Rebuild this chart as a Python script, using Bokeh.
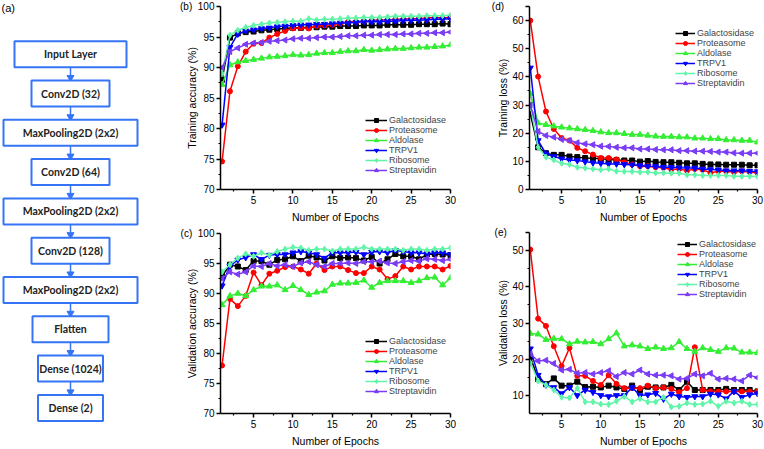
from bokeh.plotting import figure
from bokeh.layouts import row, column
from bokeh.models import Range1d, Legend, LegendItem, FixedTicker
from bokeh.embed import file_html
from bokeh.resources import INLINE
from bokeh.core.properties import value
import math

# ---------------- data ----------------
epochs = list(range(1, 31))
series_names = ["Galactosidase", "Proteasome", "Aldolase", "TRPV1", "Ribosome", "Streptavidin"]

layers = ["Input Layer", "Conv2D (32)", "MaxPooling2D (2x2)", "Conv2D (64)", "MaxPooling2D (2x2)",
          "Conv2D (128)", "MaxPooling2D (2x2)", "Flatten", "Dense (1024)", "Dense (2)"]

# (b) training accuracy
ta_gal = [88.0, 94.9, 95.6, 95.8, 95.9, 96.1, 96.2, 96.3, 96.4, 96.5, 96.5, 96.6, 96.6, 96.7, 96.7,
          96.8, 96.8, 96.8, 96.9, 96.9, 96.9, 97.0, 97.0, 97.0, 97.0, 97.1, 97.1, 97.1, 97.2, 97.1]
ta_pro = [74.6, 86.1, 90.2, 92.6, 93.9, 94.0, 94.9, 95.5, 96.0, 96.4, 96.5, 96.4, 96.8, 96.9, 97.0,
          97.2, 97.5, 97.5, 97.6, 97.7, 97.8, 97.8, 97.9, 97.9, 98.0, 98.0, 98.1, 98.2, 98.1, 98.2]
ta_ald = [87.2, 90.4, 90.9, 91.1, 91.3, 91.5, 91.7, 91.8, 91.9, 92.1, 92.0, 92.1, 92.3, 92.4, 92.4,
          92.6, 92.7, 92.7, 92.9, 92.8, 92.9, 93.0, 93.1, 93.1, 93.2, 93.3, 93.3, 93.4, 93.5, 93.7]
ta_trp = [80.6, 93.3, 95.5, 96.0, 96.2, 96.4, 96.5, 96.7, 96.8, 96.9, 97.0, 97.0, 97.1, 97.1, 97.2,
          97.3, 97.3, 97.4, 97.5, 97.5, 97.5, 97.6, 97.6, 97.7, 97.7, 97.8, 97.8, 97.9, 97.9, 98.0]
ta_rib = [89.0, 95.3, 96.1, 96.6, 96.9, 97.1, 97.3, 97.4, 97.5, 97.6, 97.6, 98.0, 97.8, 97.9, 97.9,
          98.0, 98.1, 98.1, 98.2, 98.2, 98.2, 98.3, 98.4, 98.4, 98.4, 98.4, 98.5, 98.5, 98.5, 98.6]
ta_str = [90.0, 92.6, 93.2, 93.8, 94.0, 94.1, 94.3, 94.4, 94.5, 94.7, 94.8, 94.8, 94.9, 95.0, 95.0,
          95.1, 95.2, 95.2, 95.3, 95.3, 95.4, 95.4, 95.4, 95.5, 95.5, 95.6, 95.6, 95.7, 95.7, 95.8]

# (c) validation accuracy
va_gal = [92.9, 94.8, 94.5, 93.9, 95.4, 95.4, 94.8, 95.6, 95.7, 96.2, 95.4, 96.3, 96.0, 95.5, 96.2,
          95.9, 96.0, 95.9, 95.5, 96.1, 95.0, 95.7, 96.6, 96.2, 96.2, 95.7, 96.5, 96.6, 96.5, 96.4]
va_pro = [78.0, 89.1, 87.9, 89.6, 93.5, 91.4, 93.3, 93.8, 94.4, 94.5, 94.0, 93.3, 95.0, 93.9, 94.5,
          94.5, 93.9, 93.4, 93.4, 94.5, 94.0, 92.4, 92.9, 94.5, 94.0, 94.5, 94.5, 94.5, 94.0, 94.6]
va_ald = [88.1, 89.6, 90.0, 89.6, 90.6, 91.2, 91.2, 91.4, 90.6, 91.3, 90.6, 89.8, 90.2, 90.4, 91.5,
          91.7, 91.7, 91.8, 92.2, 91.0, 91.8, 92.1, 92.1, 92.1, 91.8, 92.1, 92.6, 92.7, 91.4, 92.6]
va_trp = [91.3, 94.6, 95.6, 96.0, 96.5, 95.7, 96.4, 96.5, 96.5, 96.8, 97.0, 96.8, 96.5, 95.9, 96.8,
          96.8, 96.8, 96.9, 96.5, 96.9, 97.0, 96.8, 97.2, 97.0, 96.8, 96.8, 96.6, 96.8, 96.8, 96.5]
va_rib = [93.6, 94.8, 95.9, 96.6, 96.2, 96.8, 96.4, 97.0, 97.4, 97.7, 97.6, 97.2, 97.4, 97.4, 97.1,
          97.4, 97.4, 97.4, 97.7, 97.4, 97.4, 97.4, 97.4, 97.2, 97.4, 97.4, 97.2, 97.4, 97.4, 97.6]
va_str = [92.5, 93.6, 93.2, 93.6, 94.6, 94.5, 95.0, 94.6, 94.8, 94.5, 95.1, 95.3, 94.8, 94.5, 95.0,
          95.0, 95.1, 95.0, 95.3, 95.3, 95.4, 95.1, 95.0, 95.3, 95.5, 95.4, 95.8, 95.7, 95.5, 95.7]

# (d) training loss
tl_gal = [26.9, 15.0, 12.9, 12.3, 12.3, 11.7, 11.5, 11.2, 11.1, 10.9, 10.7, 10.5, 10.3, 10.3, 9.9,
          10.1, 9.8, 9.7, 9.7, 9.5, 9.3, 9.3, 9.1, 8.9, 8.9, 8.8, 8.8, 8.8, 8.6, 8.6]
tl_pro = [60.0, 40.1, 27.7, 21.5, 18.3, 17.4, 14.8, 13.6, 12.4, 11.2, 11.2, 10.7, 9.7, 8.9, 8.3,
          8.3, 7.9, 7.7, 7.1, 7.3, 6.7, 7.3, 7.0, 5.9, 6.5, 6.5, 6.2, 6.5, 6.2, 5.9]
tl_ald = [34.0, 23.6, 23.0, 22.5, 22.1, 21.8, 21.5, 21.2, 20.9, 20.4, 20.1, 20.1, 19.8, 19.5, 19.5,
          19.2, 18.9, 18.8, 18.8, 18.6, 18.6, 18.2, 18.2, 18.0, 18.0, 17.6, 17.6, 17.4, 17.4, 16.8]
tl_trp = [43.2, 17.4, 12.7, 11.7, 10.9, 10.5, 10.3, 9.9, 9.5, 9.3, 9.1, 9.1, 8.9, 8.8, 8.5,
          8.3, 8.2, 7.9, 7.9, 7.7, 7.6, 7.6, 7.3, 7.1, 7.0, 6.7, 6.7, 6.7, 6.5, 6.4]
tl_rib = [30.0, 15.0, 11.5, 10.5, 9.3, 8.9, 7.9, 7.6, 7.3, 7.0, 7.3, 6.5, 6.4, 6.4, 6.2,
          6.2, 5.9, 5.9, 5.8, 5.8, 5.2, 5.2, 5.0, 5.0, 5.0, 5.0, 4.7, 4.7, 4.7, 4.6]
tl_str = [30.0, 20.6, 19.2, 18.6, 17.8, 17.4, 16.6, 16.2, 15.9, 15.4, 15.3, 15.0, 14.8, 14.8, 14.4,
          14.4, 14.2, 14.1, 14.1, 13.8, 13.8, 13.6, 13.6, 13.5, 13.3, 13.3, 13.0, 12.9, 12.9, 12.9]

# (e) validation loss
vl_gal = [20.7, 14.5, 13.1, 14.7, 12.7, 12.7, 13.8, 12.3, 12.4, 12.2, 12.7, 12.2, 11.8, 12.7, 11.5,
          12.4, 12.2, 12.2, 12.9, 11.5, 13.8, 11.5, 11.5, 11.5, 11.5, 11.8, 11.5, 11.5, 11.5, 11.1]
vl_pro = [50.3, 31.2, 29.2, 23.6, 18.1, 23.1, 15.4, 15.4, 14.0, 12.9, 15.6, 13.2, 12.0, 12.0, 12.0,
          12.7, 12.0, 12.2, 11.8, 10.9, 12.0, 23.3, 11.5, 11.1, 11.1, 11.1, 11.1, 11.1, 11.1, 11.1]
vl_ald = [27.1, 26.9, 25.4, 25.7, 25.6, 24.2, 24.9, 24.7, 24.8, 24.2, 25.6, 27.2, 23.6, 23.9, 23.6,
          22.9, 23.3, 22.9, 23.1, 24.8, 22.9, 22.1, 23.1, 22.6, 22.1, 23.1, 23.0, 21.9, 21.9, 21.8]
vl_trp = [22.9, 15.6, 12.9, 12.2, 10.5, 12.2, 10.0, 11.5, 10.9, 10.0, 9.7, 10.0, 10.0, 12.2, 10.0,
          10.2, 10.6, 9.0, 10.4, 9.7, 9.5, 9.7, 9.7, 10.4, 10.2, 9.1, 11.1, 9.5, 10.2, 10.5]
vl_rib = [19.0, 14.0, 12.9, 11.5, 9.5, 9.3, 12.0, 8.2, 8.2, 7.6, 7.5, 8.4, 9.7, 8.2, 9.1,
          8.2, 8.2, 9.5, 6.8, 7.0, 7.9, 7.5, 7.6, 8.4, 7.0, 8.4, 7.9, 8.4, 7.5, 7.5]
vl_str = [21.5, 19.5, 19.7, 18.8, 17.0, 17.2, 16.1, 16.3, 15.9, 16.3, 16.8, 15.2, 16.3, 15.9, 17.0,
          15.9, 15.6, 15.6, 15.4, 14.5, 14.7, 15.9, 15.4, 16.1, 14.5, 14.7, 14.5, 14.0, 15.6, 14.9]

x_ticks = [5, 10, 15, 20, 25, 30]
acc_ticks = [70, 75, 80, 85, 90, 95, 100]
tl_ticks = [0, 10, 20, 30, 40, 50, 60]
vl_ticks = [10, 20, 30, 40, 50]
panel_tags = ["(a)", "(b)", "(c)", "(d)", "(e)"]

# ---------------- styles ----------------
FONT = "Liberation Sans"
NB = "\u00a0"
colors = ["#000000", "#ff0000", "#33ee33", "#0000ff", "#5ff5a8", "#7a3cf5"]
markers = ["square", "circle", "triangle", "inverted_triangle", "diamond", "triangle"]
msizes = [5, 5, 6, 6, 6, 6]
angles = [0, 0, 0, 0, 0, math.pi / 2]
FLOW_BLUE = "#3575f5"


def make_panel(series, width, height, mbl, mbr, mbt, mbb, x_start, y_start, y_end,
               y_ticks, y_minor, ylabel, tag_tick, tag_text, ylab_standoff, leg_xy, glyph_w):
    p = figure(width=width, height=height, x_range=Range1d(x_start, 30),
               y_range=Range1d(y_start, y_end), output_backend="svg", toolbar_location=None,
               min_border_left=mbl, min_border_right=mbr, min_border_top=mbt,
               min_border_bottom=mbb)
    p.grid.visible = False
    p.outline_line_color = None
    p.xaxis.ticker = FixedTicker(ticks=x_ticks, minor_ticks=[t - 2.5 for t in x_ticks])
    yt = sorted(set(y_ticks + [tag_tick]))
    p.yaxis.ticker = FixedTicker(ticks=yt, minor_ticks=y_minor)
    p.yaxis.major_label_overrides = {tag_tick: tag_text}
    p.xaxis.axis_label = "Number of Epochs"
    p.yaxis.axis_label = ylabel
    for ax in (p.xaxis[0], p.yaxis[0]):
        ax.axis_line_width = 1.5
        ax.major_tick_line_width = 1.5
        ax.minor_tick_line_width = 1.2
        ax.major_tick_in = 0
        ax.major_tick_out = 4
        ax.minor_tick_in = 0
        ax.minor_tick_out = 2
        ax.major_label_text_font = FONT
        ax.major_label_text_font_size = "10px"
        ax.major_label_text_color = "black"
        ax.axis_label_text_font = FONT
        ax.axis_label_text_font_size = "10.5px"
        ax.axis_label_text_font_style = "normal"
        ax.axis_label_text_color = "black"
        ax.major_label_standoff = 2
    p.xaxis.axis_label_standoff = 4
    p.yaxis.axis_label_standoff = ylab_standoff

    items = []
    for name, ys, col, mk, ms, ang in zip(series_names, series, colors, markers, msizes, angles):
        lr = p.line(epochs, ys, line_color=col, line_width=1.5)
        sr = p.scatter(epochs, ys, marker=mk, size=ms, angle=ang, fill_color=col, line_color=col)
        items.append(LegendItem(label=name, renderers=[lr, sr]))

    leg = Legend(items=items, location=leg_xy, padding=0, margin=0,
                 spacing=0, glyph_width=glyph_w, glyph_height=10, label_height=10,
                 label_standoff=2, label_text_font=FONT, label_text_font_size="9px",
                 background_fill_alpha=0, border_line_alpha=0)
    p.add_layout(leg)
    return p


acc_minor = [72.5, 77.5, 82.5, 87.5, 92.5, 97.5]
pb = make_panel([ta_gal, ta_pro, ta_ald, ta_trp, ta_rib, ta_str], 300, 225, 60, 10, 6, 36,
                0.8, 70, 100, acc_ticks, acc_minor, "Training accuracy (%)",
                100, panel_tags[1] + NB * 2 + "100", -21, (145, 14), 22)
pc = make_panel([va_gal, va_pro, va_ald, va_trp, va_rib, va_str], 300, 224, 60, 10, 8, 32,
                0.8, 70, 100, acc_ticks, acc_minor, "Validation accuracy (%)",
                100, panel_tags[2] + NB * 2 + "100", -20, (145, 17), 22)
pd_ = make_panel([tl_gal, tl_pro, tl_ald, tl_trp, tl_rib, tl_str], 304, 225, 69, 7, 6, 36,
                 0.9, 0, 65, tl_ticks, [5, 15, 25, 35, 45, 55], "Training loss (%)",
                 65, panel_tags[3] + NB * 7, -20, (146, 101), 20)
pe = make_panel([vl_gal, vl_pro, vl_ald, vl_trp, vl_rib, vl_str], 304, 224, 69, 7, 7, 33,
                0.9, 5, 55, vl_ticks, [15, 25, 35, 45], "Validation loss (%)",
                55, panel_tags[4] + NB * 6, -17, (148, 114), 20)

# ---------------- flowchart ----------------
FW, FH = 160, 449
pf = figure(width=FW, height=FH, x_range=Range1d(0, FW), y_range=Range1d(FH, 0),
            output_backend="svg", toolbar_location=None, min_border=0)
pf.axis.visible = False
pf.grid.visible = False
pf.outline_line_color = None

kind_width = {"Input": 112, "Conv2D": 78, "MaxPooling2D": 134, "Flatten": 76, "Dense": 65}
cx = 70
top0, step, bh = 40.7, 39.3, 26
tops = [top0 + i * step for i in range(len(layers))]
centers = [t + bh / 2 for t in tops]
widths = [kind_width[l.split()[0]] for l in layers]

# arrows
n_arr = len(layers) - 1
pf.segment(x0=[cx] * n_arr, y0=[t + bh for t in tops[:-1]],
           x1=[cx] * n_arr, y1=[t - 3 for t in tops[1:]],
           line_color=FLOW_BLUE, line_width=1.5)
pf.scatter(x=[cx] * n_arr, y=[t - 3 for t in tops[1:]], marker="inverted_triangle",
           size=7, fill_color=FLOW_BLUE, line_color=FLOW_BLUE)
pf.rect(x=cx, y=centers, width=widths, height=bh, fill_color="white",
        line_color=FLOW_BLUE, line_width=2)
pf.text(x=cx, y=centers, text=layers, text_align="center", text_baseline="middle",
        text_font=value("Lato"), text_font_style="bold", text_font_size="10.5px",
        text_color="#222222")
pf.text(x=[1], y=[1], text=[panel_tags[0]], text_align="left", text_baseline="top",
        text_font=value(FONT), text_font_size="11px", text_color="black")

layout = row(pf, column(pb, pc), column(pd_, pe))
open("out.html", "w").write(file_html(layout, INLINE))
